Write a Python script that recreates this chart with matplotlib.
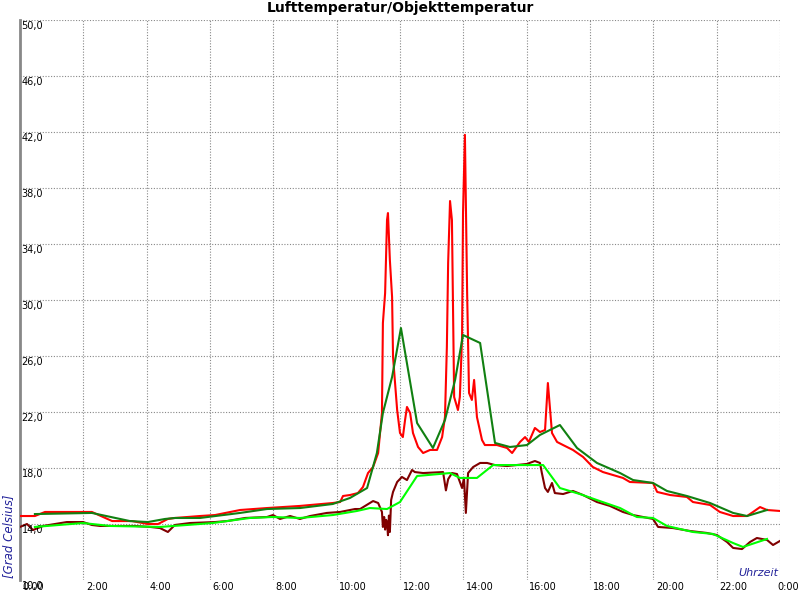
import matplotlib
matplotlib.use('Agg')
import matplotlib.pyplot as plt
from matplotlib.transforms import offset_copy

# --- data (hours, degrees C) ---
red_t = [0.00, 0.47, 0.79, 2.27, 2.91, 3.54, 4.04, 4.36, 4.67, 4.89, 5.68, 6.16, 6.95, 7.80, 8.84,
         9.88, 10.11, 10.20, 10.42, 10.67, 10.83, 10.99, 11.15, 11.31, 11.43, 11.46, 11.53, 11.59,
         11.62, 11.68, 11.75, 11.78, 11.91, 12.00, 12.09, 12.16, 12.22, 12.32, 12.41, 12.57, 12.73,
         12.95, 13.17, 13.33, 13.42, 13.48, 13.52, 13.58, 13.64, 13.67, 13.71, 13.83, 13.89, 13.96,
         13.99, 14.05, 14.12, 14.18, 14.27, 14.34, 14.43, 14.59, 14.68, 15.06, 15.38, 15.54, 15.79,
         15.95, 16.07, 16.26, 16.42, 16.58, 16.67, 16.80, 16.96, 17.15, 17.46, 17.78, 18.09, 18.41,
         19.04, 19.26, 19.99, 20.12, 20.53, 21.06, 21.25, 21.79, 22.10, 22.52, 22.96, 23.15, 23.37,
         23.59, 24.00]
red_v = [14.57, 14.57, 14.86, 14.86, 14.21, 14.21, 14.00, 14.00, 14.36, 14.43, 14.57, 14.64, 15.00,
         15.14, 15.29, 15.50, 15.57, 16.00, 16.07, 16.21, 16.64, 17.64, 18.07, 19.07, 21.93, 28.36,
         30.50, 35.71, 36.21, 32.86, 30.21, 25.93, 22.14, 20.50, 20.21, 21.43, 22.36, 21.93, 20.50,
         19.50, 19.07, 19.29, 19.29, 20.21, 21.64, 26.64, 32.64, 37.07, 35.71, 30.21, 23.07, 22.14,
         23.07, 27.36, 36.21, 41.80, 30.50, 23.36, 22.86, 24.29, 21.64, 20.00, 19.64, 19.64, 19.43,
         19.07, 19.86, 20.21, 19.86, 20.86, 20.57, 20.71, 24.07, 20.50, 19.86, 19.64, 19.29, 18.79,
         18.07, 17.71, 17.29, 17.00, 16.93, 16.29, 16.07, 15.93, 15.57, 15.36, 14.86, 14.57, 14.57,
         14.86, 15.21, 15.00, 14.93]

dkgreen_t = [0.47, 2.27, 3.47, 4.04, 4.58, 4.89, 5.68, 6.95, 7.80, 8.84, 9.88, 10.42, 10.96, 11.12,
             11.27, 11.46, 11.75, 12.03, 12.54, 13.04, 13.42, 13.74, 13.99, 14.53, 15.00, 15.47,
             16.01, 16.42, 17.05, 17.59, 18.22, 18.95, 19.36, 19.99, 20.43, 21.06, 21.79, 22.52,
             22.96, 23.59]
dkgreen_v = [14.71, 14.79, 14.21, 14.14, 14.36, 14.43, 14.43, 14.79, 15.07, 15.14, 15.43, 15.86,
             16.57, 17.86, 19.07, 21.93, 24.50, 28.00, 21.21, 19.43, 21.43, 24.29, 27.50, 26.93,
             19.79, 19.50, 19.64, 20.36, 21.07, 19.43, 18.36, 17.64, 17.14, 16.93, 16.36, 16.00,
             15.50, 14.79, 14.57, 15.00]

maroon_t = [0.00, 0.22, 0.41, 0.73, 1.48, 1.99, 2.27, 2.53, 3.63, 4.11, 4.42, 4.67, 4.89, 5.37, 6.16,
            6.54, 7.11, 7.80, 7.99, 8.21, 8.53, 8.84, 9.16, 9.69, 10.11, 10.58, 10.74, 11.15, 11.31,
            11.43, 11.46, 11.50, 11.53, 11.56, 11.59, 11.62, 11.65, 11.68, 11.72, 11.78, 11.91, 12.06,
            12.22, 12.38, 12.47, 12.73, 13.36, 13.45, 13.52, 13.64, 13.80, 13.96, 14.02, 14.08, 14.15,
            14.31, 14.53, 14.75, 15.00, 15.38, 16.01, 16.26, 16.42, 16.48, 16.58, 16.67, 16.80, 16.89,
            17.15, 17.46, 17.78, 18.22, 18.63, 19.04, 19.36, 19.99, 20.15, 20.62, 21.16, 21.69, 22.01,
            22.33, 22.52, 22.80, 23.05, 23.27, 23.59, 23.78, 24.00]
maroon_v = [13.79, 14.00, 13.57, 13.86, 14.14, 14.14, 13.93, 13.86, 13.86, 13.79, 13.71, 13.43, 13.93,
            14.07, 14.14, 14.21, 14.43, 14.50, 14.64, 14.36, 14.57, 14.36, 14.57, 14.79, 14.86, 15.07,
            15.07, 15.64, 15.50, 14.86, 13.79, 14.50, 13.60, 14.30, 14.14, 13.20, 14.60, 13.43, 15.71,
            16.29, 17.00, 17.36, 17.14, 17.86, 17.71, 17.64, 17.71, 16.40, 17.20, 17.64, 17.57, 16.57,
            17.30, 14.79, 17.64, 18.07, 18.36, 18.36, 18.21, 18.14, 18.29, 18.50, 18.36, 17.64, 16.57,
            16.29, 16.93, 16.21, 16.14, 16.36, 16.07, 15.57, 15.29, 14.86, 14.64, 14.36, 13.79, 13.71,
            13.50, 13.36, 13.21, 12.71, 12.29, 12.21, 12.71, 13.00, 12.86, 12.50, 12.79]

lime_t = [0.47, 1.99, 2.84, 4.42, 5.27, 6.09, 7.26, 7.99, 8.84, 9.88, 10.64, 11.05, 11.59, 12.00,
          12.54, 13.58, 13.89, 14.43, 14.94, 16.52, 17.05, 17.68, 18.22, 18.95, 19.48, 19.99, 20.43,
          21.25, 21.88, 22.52, 22.83, 23.59]
lime_v = [13.79, 14.07, 13.86, 13.79, 13.93, 14.07, 14.43, 14.50, 14.43, 14.64, 14.93, 15.14, 15.07,
          15.57, 17.43, 17.64, 17.29, 17.29, 18.21, 18.21, 16.57, 16.14, 15.71, 15.14, 14.50, 14.43,
          13.86, 13.43, 13.29, 12.64, 12.36, 12.93]

x_ticks = list(range(0, 26, 2))
x_labels = ['%d:00' % (h % 24) for h in x_ticks]
y_ticks = list(range(10, 51, 4))
y_labels = ['%d,0' % v for v in y_ticks]

fig = plt.figure(figsize=(8, 6), dpi=100)
ax = fig.add_axes([0.025, 1 - 580 / 600, 0.95, 560 / 600])
ax.set_xlim(0, 24)
ax.set_ylim(10, 50)

# dotted grid
for h in x_ticks[1:]:
    ax.axvline(h, color='#888888', linestyle=(0, (1, 1.5)), linewidth=0.8, zorder=1)
for v in y_ticks[1:]:
    ax.axhline(v, color='#888888', linestyle=(0, (1, 1.5)), linewidth=0.8, zorder=1)

lw = 1.5
ax.plot(red_t, red_v, color='#ff0000', linewidth=lw, zorder=3)
ax.plot(dkgreen_t, dkgreen_v, color='#118011', linewidth=lw, zorder=4)
ax.plot(maroon_t, maroon_v, color='#800000', linewidth=lw, zorder=3)
ax.plot(lime_t, lime_v, color='#00ff00', linewidth=lw, zorder=4)

ax.set_xticks([])
ax.set_yticks([])
for s in ['top', 'right', 'bottom']:
    ax.spines[s].set_visible(False)
ax.spines['left'].set_color('#888888')
ax.spines['left'].set_linewidth(2)

# tick labels drawn by hand (inside / right of gridlines, like the original)
ylab_tr = offset_copy(ax.transData, fig=fig, x=1.5, y=-1.5, units='dots')
for v, lab in zip(y_ticks, y_labels):
    ax.text(0, v, lab, transform=ylab_tr, ha='left', va='top', fontsize=7, clip_on=False)
xlab_tr = offset_copy(ax.transData, fig=fig, x=2.5, y=-2, units='dots')
for h, lab in zip(x_ticks[:-1], x_labels[:-1]):
    ax.text(h, 10, lab, transform=xlab_tr, ha='left', va='top', fontsize=7, clip_on=False)
# last label would run off the edge: keep it inside the figure
ax.text(x_ticks[-1], 10, x_labels[-1],
        transform=offset_copy(ax.transData, fig=fig, x=19, y=-2, units='dots'),
        ha='right', va='top', fontsize=7, clip_on=False)

fig.text(0.5, 1 - 8 / 600, 'Lufttemperatur/Objekttemperatur', ha='center', va='center',
         fontsize=10, fontweight='bold')
fig.text(9 / 800, 1 - 578 / 600, '[Grad Celsius]', rotation=90, ha='center', va='bottom',
         fontsize=8.5, style='italic', color='#22229a')
fig.text(778 / 800, 1 - 578 / 600, 'Uhrzeit', ha='right', va='bottom',
         fontsize=8, style='italic', color='#22229a')

fig.savefig('out.png', dpi=100)
